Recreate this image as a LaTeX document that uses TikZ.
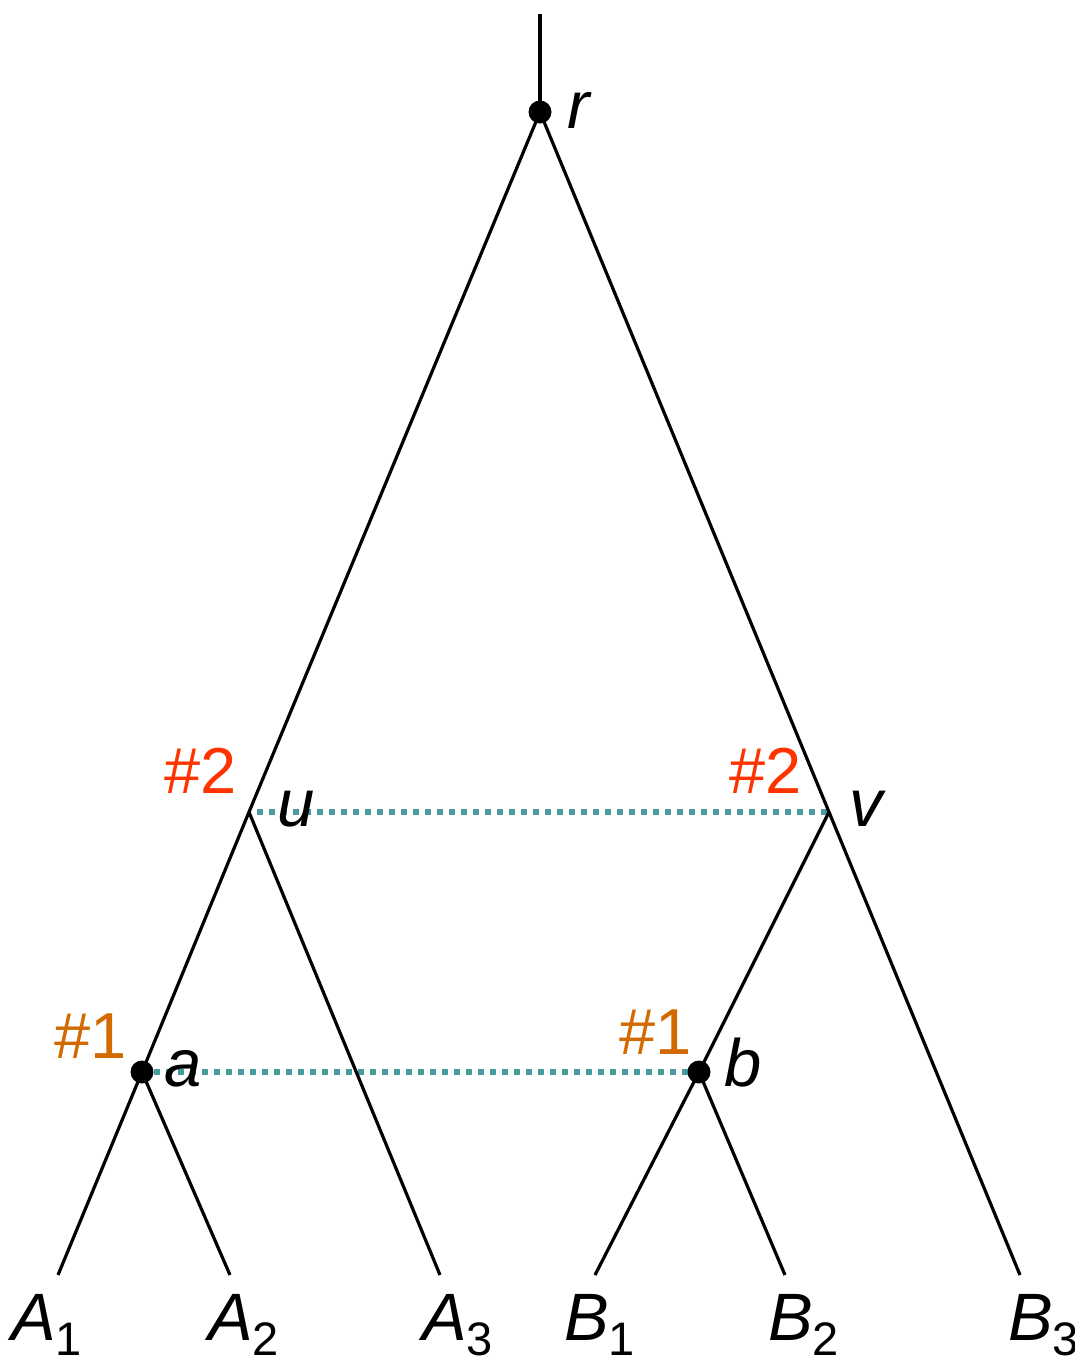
\documentclass[tikz,border=0pt]{standalone}
\usepackage{fontspec}
\setmainfont{Liberation Sans}
\usetikzlibrary{calc}
\newcommand{\lsub}[1]{\raisebox{-15pt}{\fontsize{47}{50}\selectfont\upshape #1}}
\begin{document}
\begin{tikzpicture}[x=1pt,y=-1pt,
  edge/.style={line width=3.2pt,black},
  link/.style={line width=5.5pt,color=linkteal,dash pattern=on 6pt off 6pt},
  dotnode/.style={circle,fill=black,inner sep=0pt,minimum size=23pt},
  lbl/.style={inner sep=0pt,anchor=base,font=\fontsize{67}{72}\selectfont\itshape},
  hashred/.style={inner sep=0pt,anchor=base west,font=\fontsize{65}{70}\selectfont,text=hashred},
  hashorange/.style={inner sep=0pt,anchor=base west,font=\fontsize{65}{70}\selectfont,text=hashorange}]
\definecolor{linkteal}{HTML}{4A9BA0}
\definecolor{hashred}{HTML}{FF3300}
\definecolor{hashorange}{HTML}{D26A00}
\useasboundingbox (0,0) rectangle (1075,1358);
% coordinates
\coordinate (top) at (540,14);
\coordinate (r) at (540,112);
\coordinate (u) at (249,812);
\coordinate (v) at (829,812);
\coordinate (a) at (142,1072);
\coordinate (b) at (699,1072);
\coordinate (lA1) at (58,1275);
\coordinate (lA2) at (230,1275);
\coordinate (lA3) at (440,1275);
\coordinate (lB1) at (595,1275);
\coordinate (lB2) at (785,1275);
\coordinate (lB3) at (1020,1275);
% dotted links
\draw[link] ($(u)+(8,0)$) -- (v);
\draw[link] (a) -- (b);
% edges
\draw[edge] (top) -- (r);
\draw[edge] (r) -- (u) -- (a) -- (lA1);
\draw[edge] (a) -- (lA2);
\draw[edge] (u) -- (lA3);
\draw[edge] (r) -- (v) -- (lB3);
\draw[edge] (v) -- (b) -- (lB1);
\draw[edge] (b) -- (lB2);
% dots
\node[dotnode] (dr) at (r) {};
\node[dotnode] (da) at (a) {};
\node[dotnode] (db) at (b) {};
% labels
\node[lbl,anchor=base west] (tr) at (567,128) {r};
\node[lbl,anchor=base west] (tu) at (277,826) {u};
\node[lbl,anchor=base west] (tv) at (849,826) {v};
\node[lbl,anchor=base west] (ta) at (164,1086) {a};
\node[lbl,anchor=base west] (tb) at (724,1086) {b};
\node[hashred] (h2l) at (164,793) {\#2};
\node[hashred] (h2r) at (729,793) {\#2};
\node[hashorange] (h1l) at (54,1058) {\#1};
\node[hashorange] (h1r) at (619,1054) {\#1};
\node[lbl,anchor=base west] (A1) at (11,1340) {A\lsub{1}};
\node[lbl,anchor=base west] (A2) at (208,1340) {A\lsub{2}};
\node[lbl,anchor=base west] (A3) at (422,1340) {A\lsub{3}};
\node[lbl,anchor=base west] (B1) at (564,1340) {B\lsub{1}};
\node[lbl,anchor=base west] (B2) at (768,1340) {B\lsub{2}};
\node[lbl,anchor=base west] (B3) at (1008,1340) {B\lsub{3}};
\end{tikzpicture}
\end{document}
